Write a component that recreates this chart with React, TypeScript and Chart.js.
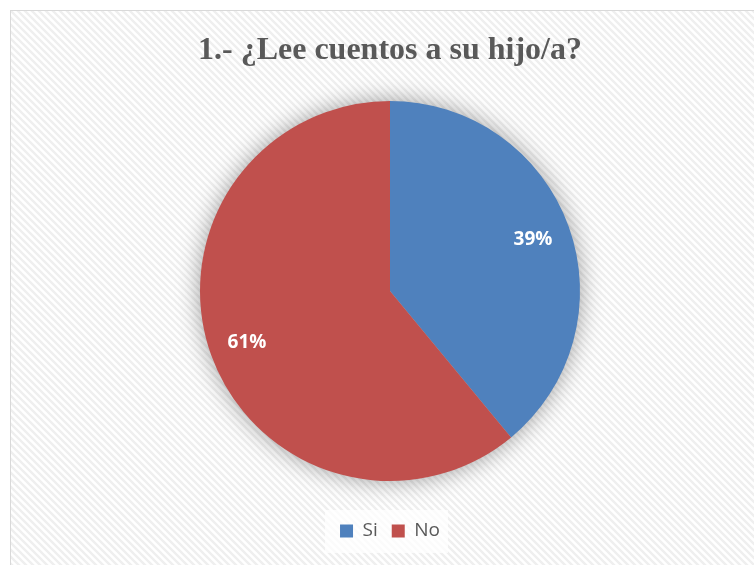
import React, { useEffect, useRef } from "react";
import { Chart, registerables } from "chart.js";

Chart.register(...registerables);

const categories = ["Si", "No"];
const values = [39, 61];
const sliceColors = ["#4F81BD", "#C0504D"];
const titleText = "1.- ¿Lee cuentos a su hijo/a?";

export default function App() {
  const ref = useRef<HTMLCanvasElement>(null);

  useEffect(() => {
    const canvas = ref.current;
    if (!canvas) return;

    const T = 7;
    const pat = document.createElement("canvas");
    pat.width = T;
    pat.height = T;
    const pc = pat.getContext("2d")!;
    pc.fillStyle = "#ffffff";
    pc.fillRect(0, 0, T, T);
    pc.strokeStyle = "#efefef";
    pc.lineWidth = 2.4;
    pc.beginPath();
    for (let k = -1; k <= 1; k++) {
      pc.moveTo(k * T - 1, -1);
      pc.lineTo(k * T + T + 1, T + 1);
    }
    pc.stroke();

    const bgPlugin = {
      id: "bgPlugin",
      beforeDraw(chart: any) {
        const ctx = chart.ctx;
        const w = chart.width;
        const h = chart.height;
        ctx.save();
        ctx.fillStyle = "#ffffff";
        ctx.fillRect(0, 0, w, h);
        const p = ctx.createPattern(pat, "repeat");
        ctx.fillStyle = p;
        ctx.fillRect(10, 10, w - 10, h - 10);
        ctx.strokeStyle = "#d9d9d9";
        ctx.lineWidth = 1;
        ctx.strokeRect(10.5, 10.5, w + 10, h + 10);
        const lg = chart.legend;
        if (lg && lg.legendHitBoxes && lg.legendHitBoxes.length) {
          const hb = lg.legendHitBoxes;
          const first = hb[0];
          const last = hb[hb.length - 1];
          const cy = first.top + first.height / 2;
          ctx.fillStyle = "rgba(255,255,255,0.75)";
          ctx.fillRect(first.left - 15, cy - 21, last.left + last.width + 8 - (first.left - 15), 43);
        }
        ctx.restore();
      },
    };

    const shadowPlugin = {
      id: "shadowPlugin",
      beforeDatasetsDraw(chart: any) {
        const meta = chart.getDatasetMeta(0);
        const arc: any = meta.data[0];
        if (!arc) return;
        const ctx = chart.ctx;
        ctx.save();
        ctx.shadowColor = "rgba(0,0,0,0.4)";
        ctx.shadowBlur = 24;
        ctx.shadowOffsetX = 0;
        ctx.shadowOffsetY = 0;
        ctx.fillStyle = "#bbbbbb";
        ctx.beginPath();
        ctx.arc(arc.x, arc.y, arc.outerRadius - 1, 0, Math.PI * 2);
        ctx.fill();
        ctx.restore();
      },
    };

    const labelPlugin = {
      id: "labelPlugin",
      afterDatasetsDraw(chart: any) {
        const meta = chart.getDatasetMeta(0);
        const ctx = chart.ctx;
        const data = chart.data.datasets[0].data as number[];
        const total = data.reduce((a, b) => a + b, 0);
        ctx.save();
        ctx.fillStyle = "#ffffff";
        ctx.font = "bold 19px 'Open Sans', sans-serif";
        ctx.textAlign = "center";
        ctx.textBaseline = "middle";
        meta.data.forEach((arc: any, i: number) => {
          const mid = (arc.startAngle + arc.endAngle) / 2;
          const r = arc.outerRadius * 0.8;
          const x = arc.x + Math.cos(mid) * r;
          const y = arc.y + Math.sin(mid) * r;
          const pct = Math.round((data[i] / total) * 100);
          ctx.fillText(pct + "%", x, y);
        });
        ctx.restore();
      },
    };

    const chart = new Chart(canvas, {
      type: "pie",
      data: {
        labels: categories,
        datasets: [
          {
            data: values,
            backgroundColor: sliceColors,
            borderWidth: 0,
            radius: 190,
          } as any,
        ],
      },
      options: {
        responsive: false,
        animation: false,
        events: [],
        layout: { padding: { left: 26, right: 0, top: 0, bottom: 14.5 } },
        plugins: {
          title: {
            display: true,
            text: titleText,
            color: "#595959",
            font: {
              family: "'Liberation Serif', 'Times New Roman', serif",
              size: 32,
              weight: "bold",
              lineHeight: 1.2,
            },
            padding: { top: 32, bottom: 4.1 },
          },
          legend: {
            display: true,
            position: "bottom",
            labels: {
              boxWidth: 13,
              boxHeight: 13,
              padding: 14,
              color: "#595959",
              font: { family: "'Open Sans', sans-serif", size: 19 },
            },
          },
          tooltip: { enabled: false },
        },
      },
      plugins: [bgPlugin, shadowPlugin, labelPlugin],
    });

    return () => {
      chart.destroy();
    };
  }, []);

  return (
    <div style={{ position: "absolute", left: 0, top: 0, width: 754, height: 565 }}>
      <canvas ref={ref} width={754} height={565} style={{ display: "block", width: 754, height: 565 }} />
    </div>
  );
}
